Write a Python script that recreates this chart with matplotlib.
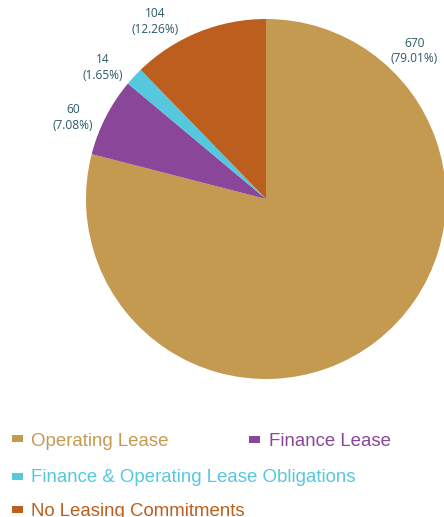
import numpy as np
import matplotlib
matplotlib.use("Agg")
import matplotlib.pyplot as plt
from matplotlib.patches import Rectangle

categories = ["Operating Lease", "Finance Lease",
              "Finance & Operating Lease Obligations", "No Leasing Commitments"]
counts = [670, 60, 14, 104]
percents = ["79.01%", "7.08%", "1.65%", "12.26%"]
colors = ["#C49A50", "#8A4799", "#55C8DE", "#BC5F1E"]

W, H = 444, 517
fig = plt.figure(figsize=(W / 100, H / 100), dpi=100)
ax = fig.add_axes([0, 0, 1, 1])

cx, cy, R = 266, H - 199, 180
ax.pie(counts, colors=colors, startangle=90, counterclock=False,
       center=(cx, cy), radius=R, wedgeprops=dict(linewidth=0))
ax.set_xlim(0, W)
ax.set_ylim(0, H)
ax.set_aspect("equal")
ax.axis("off")

# value labels around the rim
label_angles = [45, 157, 141, 122]
label_r = 1.165 * R
for n, p, a in zip(counts, percents, label_angles):
    t = np.deg2rad(a)
    x = cx + label_r * np.cos(t)
    y = cy + label_r * np.sin(t)
    ax.text(x, y + 7.5, str(n), ha="center", va="center", fontsize=8.6,
            color="#2B5A66", family="Open Sans")
    ax.text(x, y - 8, f"({p})", ha="center", va="center", fontsize=8.6,
            color="#2B5A66", family="Open Sans")

# legend: (square left, square top, text left, text baseline) in pixel rows
legend_pos = [(12, 434.5, 31, 446), (249, 436, 269, 446),
              (12, 472.5, 31, 482.5), (12, 505.5, 31, 516.5)]
for name, c, (sx, sy, tx, ty) in zip(categories, colors, legend_pos):
    ax.add_patch(Rectangle((sx, H - sy - 7), 11, 7, color=c, lw=0, clip_on=False))
    ax.text(tx, H - ty, name, ha="left", va="baseline", fontsize=13.4,
            color=c, family="Liberation Sans")

fig.savefig("out.png", dpi=100)
